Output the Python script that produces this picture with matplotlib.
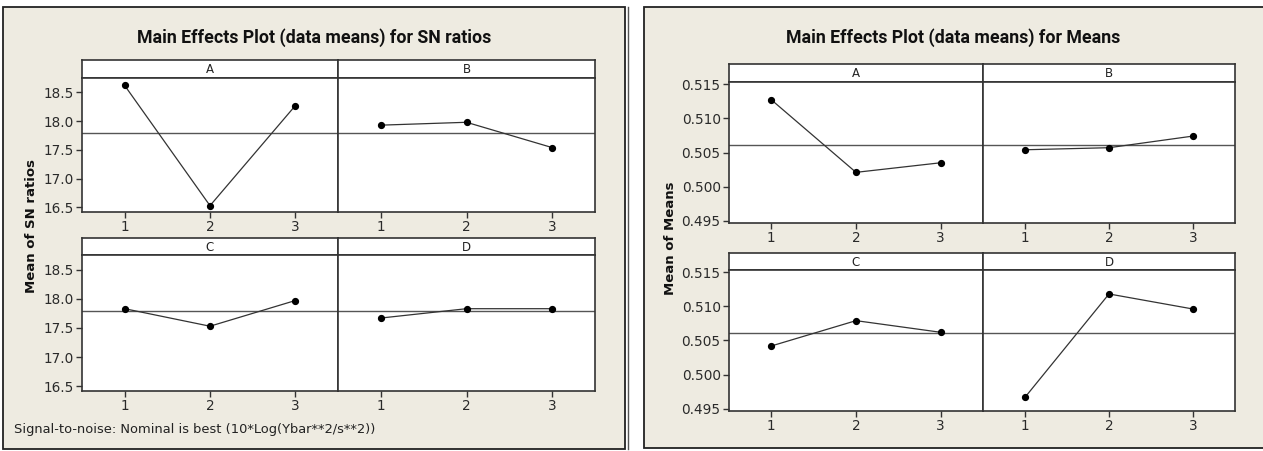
import numpy as np
import matplotlib.pyplot as plt
from matplotlib.patches import Rectangle

# data
levels = [1, 2, 3]
factors = ['A', 'B', 'C', 'D']
sn_A = [18.62, 16.53, 18.27]
sn_B = [17.93, 17.98, 17.54]
sn_C = [17.83, 17.53, 17.97]
sn_D = [17.67, 17.83, 17.83]
mean_A = [0.5127, 0.5021, 0.5035]
mean_B = [0.5054, 0.5057, 0.5074]
mean_C = [0.5042, 0.5079, 0.5062]
mean_D = [0.4967, 0.5118, 0.5096]
sn_ticks = [16.5, 17.0, 17.5, 18.0, 18.5]
mean_ticks = [0.495, 0.500, 0.505, 0.510, 0.515]

W, H = 1263, 451
BG = '#eeebe1'
fig = plt.figure(figsize=(W / 100, H / 100), dpi=100, facecolor='white')
plt.rcParams['font.family'] = ['DejaVu Sans']


def box(x0, y0, x1, y1):
    # pixel box (top-left origin) -> figure fraction rect
    return [x0 / W, 1 - y1 / H, (x1 - x0) / W, (y1 - y0) / H]


# panel backgrounds
fig.patches.append(Rectangle((3 / W, 1 - 449 / H), 622 / W, 442 / H, transform=fig.transFigure,
                             facecolor=BG, edgecolor='#222222', lw=1.3, zorder=-5))
fig.patches.append(Rectangle((644 / W, 1 - 448 / H), 640 / W, 441 / H, transform=fig.transFigure,
                             facecolor=BG, edgecolor='#222222', lw=1.3, zorder=-5))
fig.lines.append(plt.Line2D([628 / W, 628 / W], [1 - 449 / H, 1 - 7 / H], transform=fig.transFigure,
                            color='#555555', lw=1.0, zorder=-4))


def facet(cols, rows, series, ylim, yticks, fmt):
    k = 0
    for r, (s0, s1, p1) in enumerate(rows):
        for c, (x0, x1) in enumerate(cols):
            vals = series[k]
            strip = fig.add_axes(box(x0, s0, x1, s1))
            strip.set_xticks([])
            strip.set_yticks([])
            strip.set_facecolor('white')
            for sp in strip.spines.values():
                sp.set_color('#333333')
                sp.set_linewidth(1.2)
            strip.text(0.5, 0.45, factors[k], ha='center', va='center', fontsize=8.5, color='#222222')

            ax = fig.add_axes(box(x0, s1, x1, p1))
            ax.set_facecolor('white')
            ax.plot(levels, vals, color='#333333', lw=0.9, marker='o', ms=4.2,
                    mfc='black', mec='black')
            ax.axhline(grand[0], color='#555555', lw=1.0, zorder=0)
            ax.set_xlim(0.5, 3.5)
            ax.set_ylim(*ylim)
            ax.set_xticks(levels)
            ax.set_yticks(yticks)
            ax.yaxis.set_major_formatter(plt.FormatStrFormatter(fmt))
            ax.tick_params(direction='out', length=4, width=1, color='#333333',
                           labelsize=9.8, labelcolor='#2a2a2a', pad=2)
            if c > 0:
                ax.tick_params(axis='y', left=False, labelleft=False)
            for sp in ax.spines.values():
                sp.set_color('#333333')
                sp.set_linewidth(1.2)
            k += 1


sn_all = [sn_A, sn_B, sn_C, sn_D]
grand = [np.mean(sn_all)]
facet([(82, 338), (338, 595)], [(60, 78, 212), (238, 255, 391)], sn_all,
      (16.42, 18.75), sn_ticks, '%.1f')

mean_all = [mean_A, mean_B, mean_C, mean_D]
grand = [np.mean(mean_all)]
facet([(729, 983), (983, 1235)], [(64, 82, 223), (253, 270, 411)], mean_all,
      (0.4947, 0.5153), mean_ticks, '%.3f')

fig.text(314 / W, 1 - 38 / H, 'Main Effects Plot (data means) for SN ratios',
         ha='center', va='center', fontsize=12.8, fontweight='bold', color='#111111',
         family=['Roboto', 'DejaVu Sans'])
fig.text(953 / W, 1 - 38 / H, 'Main Effects Plot (data means) for Means',
         ha='center', va='center', fontsize=12.8, fontweight='bold', color='#111111',
         family=['Roboto', 'DejaVu Sans'])
fig.text(32 / W, 1 - 226 / H, 'Mean of SN ratios', rotation=90, ha='center', va='center',
         fontsize=9.5, fontweight='bold', color='#111111')
fig.text(671 / W, 1 - 238 / H, 'Mean of Means', rotation=90, ha='center', va='center',
         fontsize=9.5, fontweight='bold', color='#111111')
fig.text(14 / W, 1 - 430 / H, 'Signal-to-noise: Nominal is best (10*Log(Ybar**2/s**2))',
         ha='left', va='center', fontsize=9.4, color='#222222')

fig.savefig('out.png', dpi=100, facecolor='white')
